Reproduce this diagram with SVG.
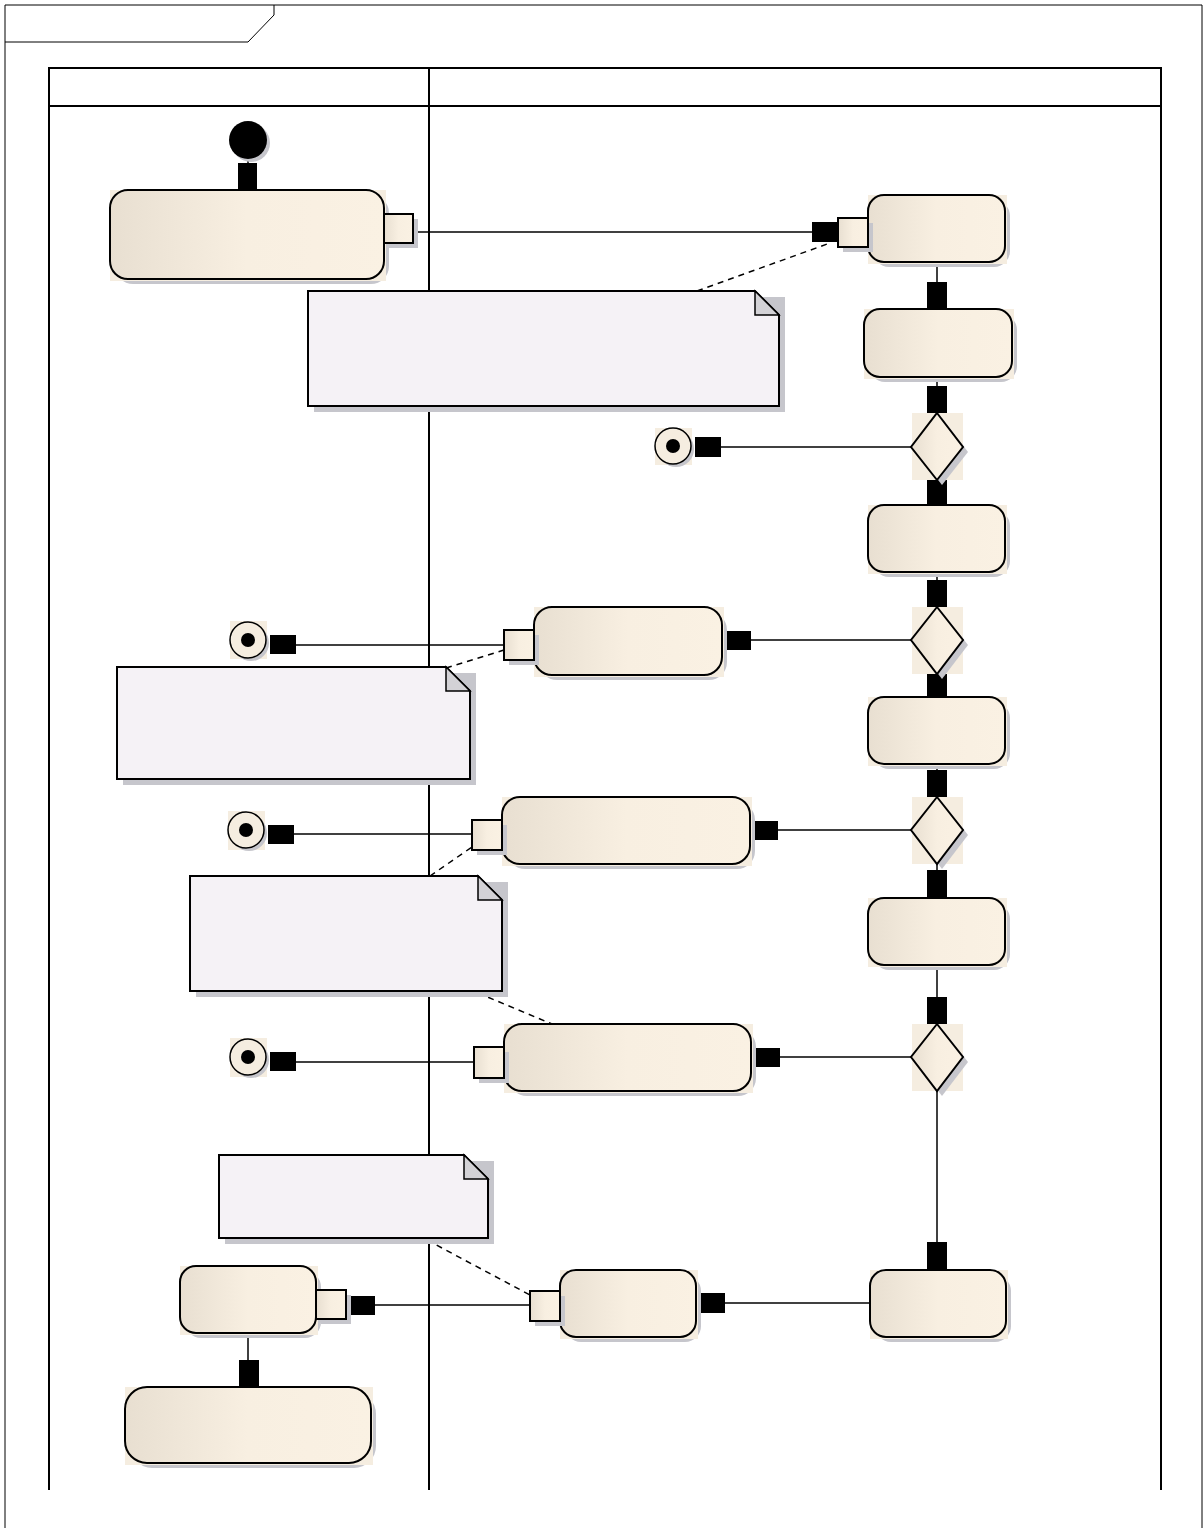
<svg xmlns="http://www.w3.org/2000/svg" width="1204" height="1528" viewBox="0 0 1204 1528">
<defs>
<linearGradient id="g" x1="0" y1="0" x2="1" y2="0">
<stop offset="0" stop-color="#E8DFD1"/>
<stop offset="0.5" stop-color="#F8EFE1"/>
<stop offset="1" stop-color="#FAF1E3"/>
</linearGradient>
<style>
.frame{fill:none;stroke:#000;stroke-width:1}
.lane{fill:none;stroke:#000;stroke-width:2}
.bg{fill:#F5EDE0;stroke:none}
.sh{fill:#C6C6CC;stroke:none}
.act{fill:url(#g);stroke:#000;stroke-width:2}
.pin{fill:url(#g);stroke:#000;stroke-width:2}
.note{fill:#F5F2F6;stroke:#000;stroke-width:2}
.fold{fill:#D3D2D6;stroke:#000;stroke-width:1.5}
.blk{fill:#000;stroke:none}
.ln{fill:none;stroke:#000;stroke-width:1.5}
.dash{fill:none;stroke:#000;stroke-width:1.5;stroke-dasharray:6 5}
.dec{fill:url(#g);stroke:#000;stroke-width:2}
.fin{fill:#F5EDE0;stroke:#000;stroke-width:1.5}
</style>
</defs>
<rect width="1204" height="1528" fill="#fff"/>
<g id="frame">
<path class="frame" d="M5,1528 V5 H1202 V1528"/>
<path class="frame" d="M5,42 H248 L274,15 V5"/>
</g>
<g id="lanes">
<path class="lane" d="M49,1490 V68 H1161 V1490"/>
<line class="lane" x1="49" y1="106" x2="1161" y2="106"/>
<line class="lane" x1="429" y1="68" x2="429" y2="1490"/>
</g>
<g id="connectors">
<line class="ln" x1="248" y1="160" x2="248" y2="190"/>
<line class="ln" x1="413" y1="232" x2="812" y2="232"/>
<line class="ln" x1="937" y1="262" x2="937" y2="309"/>
<line class="ln" x1="937" y1="377" x2="937" y2="413"/>
<line class="ln" x1="721" y1="447" x2="912" y2="447"/>
<line class="ln" x1="937" y1="480" x2="937" y2="505"/>
<line class="ln" x1="937" y1="572" x2="937" y2="607"/>
<line class="ln" x1="296" y1="645" x2="504" y2="645"/>
<line class="ln" x1="751" y1="640" x2="912" y2="640"/>
<line class="ln" x1="937" y1="673" x2="937" y2="697"/>
<line class="ln" x1="937" y1="764" x2="937" y2="797"/>
<line class="ln" x1="294" y1="834" x2="472" y2="834"/>
<line class="ln" x1="778" y1="830" x2="912" y2="830"/>
<line class="ln" x1="937" y1="864" x2="937" y2="898"/>
<line class="ln" x1="937" y1="965" x2="937" y2="1024"/>
<line class="ln" x1="296" y1="1062" x2="474" y2="1062"/>
<line class="ln" x1="780" y1="1057" x2="912" y2="1057"/>
<line class="ln" x1="937" y1="1091" x2="937" y2="1270"/>
<line class="ln" x1="725" y1="1303" x2="870" y2="1303"/>
<line class="ln" x1="375" y1="1305" x2="530" y2="1305"/>
<line class="ln" x1="248" y1="1333" x2="248" y2="1387"/>
<rect class="blk" x="238" y="163" width="19" height="27"/>
<rect class="blk" x="812" y="222" width="26" height="20"/>
<rect class="blk" x="927" y="282" width="20" height="27"/>
<rect class="blk" x="927" y="386" width="20" height="27"/>
<rect class="blk" x="695" y="437" width="26" height="20"/>
<rect class="blk" x="927" y="478" width="20" height="27"/>
<rect class="blk" x="927" y="580" width="20" height="27"/>
<rect class="blk" x="724" y="631" width="27" height="19"/>
<rect class="blk" x="270" y="635" width="26" height="19"/>
<rect class="blk" x="927" y="670" width="20" height="27"/>
<rect class="blk" x="927" y="770" width="20" height="27"/>
<rect class="blk" x="751" y="821" width="27" height="19"/>
<rect class="blk" x="268" y="825" width="26" height="19"/>
<rect class="blk" x="927" y="870" width="20" height="27"/>
<rect class="blk" x="927" y="997" width="20" height="27"/>
<rect class="blk" x="753" y="1048" width="27" height="19"/>
<rect class="blk" x="270" y="1052" width="26" height="19"/>
<rect class="blk" x="927" y="1242" width="20" height="28"/>
<rect class="blk" x="698" y="1293" width="27" height="20"/>
<rect class="blk" x="348" y="1296" width="27" height="19"/>
<rect class="blk" x="239" y="1360" width="20" height="27"/>
<line class="dash" x1="697" y1="291" x2="830" y2="243"/>
<line class="dash" x1="446" y1="668" x2="504" y2="650"/>
<line class="dash" x1="430" y1="876" x2="472" y2="847"/>
<line class="dash" x1="478" y1="993" x2="552" y2="1024"/>
<line class="dash" x1="427" y1="1240" x2="530" y2="1295"/>
</g>
<g id="initial">
<circle cx="251" cy="143" r="19" fill="#C6C6CC"/>
<circle cx="248" cy="140" r="19" fill="#000"/>
</g>
<g id="action1">
<rect class="sh" x="115" y="195" width="274" height="89" rx="18"/>
<rect class="bg" x="110" y="190" width="276" height="91"/>
<rect class="act" x="110" y="190" width="274" height="89" rx="18"/>
<rect class="sh" x="389" y="219" width="29" height="29"/>
<rect class="pin" x="384" y="214" width="29" height="29"/>
</g>
<g id="action2">
<rect class="sh" x="873" y="200" width="137" height="67" rx="16"/>
<rect class="bg" x="868" y="195" width="139" height="69"/>
<rect class="act" x="868" y="195" width="137" height="67" rx="16"/>
<rect class="sh" x="843" y="223" width="30" height="29"/>
<rect class="pin" x="838" y="218" width="30" height="29"/>
</g>
<g id="note1">
<path class="sh" d="M314,297 H785 V412 H314 Z"/>
<path class="note" d="M308,291 H755 L779,315 V406 H308 Z"/>
<path class="fold" d="M755,291 V315 H779 Z"/>
</g>
<g id="action3">
<rect class="sh" x="869" y="314" width="148" height="68" rx="16"/>
<rect class="bg" x="864" y="309" width="150" height="70"/>
<rect class="act" x="864" y="309" width="148" height="68" rx="16"/>
</g>
<g id="decision1">
<rect class="bg" x="912" y="413" width="51" height="67"/>
<path class="sh" d="M942,418 L968,452 L942,485 L916,452 Z"/>
<path class="dec" d="M937,413 L963,447 L937,480 L911,447 Z"/>
</g>
<g id="final1">
<rect class="bg" x="655" y="428" width="37" height="37"/>
<circle cx="676" cy="449" r="18" fill="#C6C6CC"/>
<circle class="fin" cx="673" cy="446" r="18"/>
<circle cx="673" cy="446" r="7" fill="#000"/>
</g>
<g id="action4">
<rect class="sh" x="873" y="510" width="137" height="67" rx="16"/>
<rect class="bg" x="868" y="505" width="139" height="69"/>
<rect class="act" x="868" y="505" width="137" height="67" rx="16"/>
</g>
<g id="decision2">
<rect class="bg" x="912" y="607" width="51" height="67"/>
<path class="sh" d="M942,612 L968,645 L942,679 L916,645 Z"/>
<path class="dec" d="M937,607 L963,640 L937,674 L911,640 Z"/>
</g>
<g id="action5">
<rect class="sh" x="539" y="612" width="188" height="68" rx="18"/>
<rect class="bg" x="534" y="607" width="190" height="70"/>
<rect class="act" x="534" y="607" width="188" height="68" rx="18"/>
<rect class="sh" x="509" y="635" width="30" height="30"/>
<rect class="pin" x="504" y="630" width="30" height="30"/>
</g>
<g id="final2">
<rect class="bg" x="230" y="621" width="37" height="38"/>
<circle cx="251" cy="643" r="18" fill="#C6C6CC"/>
<circle class="fin" cx="248" cy="640" r="18"/>
<circle cx="248" cy="640" r="7" fill="#000"/>
</g>
<g id="note2">
<path class="sh" d="M123,673 H476 V785 H123 Z"/>
<path class="note" d="M117,667 H446 L470,691 V779 H117 Z"/>
<path class="fold" d="M446,667 V691 H470 Z"/>
</g>
<g id="action6">
<rect class="sh" x="873" y="702" width="137" height="67" rx="16"/>
<rect class="bg" x="868" y="697" width="139" height="69"/>
<rect class="act" x="868" y="697" width="137" height="67" rx="16"/>
</g>
<g id="decision3">
<rect class="bg" x="912" y="797" width="51" height="67"/>
<path class="sh" d="M942,802 L968,835 L942,869 L916,835 Z"/>
<path class="dec" d="M937,797 L963,830 L937,864 L911,830 Z"/>
</g>
<g id="action7">
<rect class="sh" x="507" y="802" width="248" height="67" rx="18"/>
<rect class="bg" x="502" y="797" width="250" height="69"/>
<rect class="act" x="502" y="797" width="248" height="67" rx="18"/>
<rect class="sh" x="477" y="825" width="30" height="30"/>
<rect class="pin" x="472" y="820" width="30" height="30"/>
</g>
<g id="final3">
<rect class="bg" x="228" y="811" width="37" height="39"/>
<circle cx="249" cy="833" r="18" fill="#C6C6CC"/>
<circle class="fin" cx="246" cy="830" r="18"/>
<circle cx="246" cy="830" r="7" fill="#000"/>
</g>
<g id="note3">
<path class="sh" d="M196,882 H508 V997 H196 Z"/>
<path class="note" d="M190,876 H478 L502,900 V991 H190 Z"/>
<path class="fold" d="M478,876 V900 H502 Z"/>
</g>
<g id="action8">
<rect class="sh" x="873" y="903" width="137" height="67" rx="16"/>
<rect class="bg" x="868" y="898" width="139" height="69"/>
<rect class="act" x="868" y="898" width="137" height="67" rx="16"/>
</g>
<g id="decision4">
<rect class="bg" x="912" y="1024" width="51" height="67"/>
<path class="sh" d="M942,1029 L968,1062 L942,1096 L916,1062 Z"/>
<path class="dec" d="M937,1024 L963,1057 L937,1091 L911,1057 Z"/>
</g>
<g id="action9">
<rect class="sh" x="509" y="1029" width="247" height="67" rx="18"/>
<rect class="bg" x="504" y="1024" width="249" height="69"/>
<rect class="act" x="504" y="1024" width="247" height="67" rx="18"/>
<rect class="sh" x="479" y="1052" width="30" height="31"/>
<rect class="pin" x="474" y="1047" width="30" height="31"/>
</g>
<g id="final4">
<rect class="bg" x="230" y="1038" width="37" height="39"/>
<circle cx="251" cy="1060" r="18" fill="#C6C6CC"/>
<circle class="fin" cx="248" cy="1057" r="18"/>
<circle cx="248" cy="1057" r="7" fill="#000"/>
</g>
<g id="note4">
<path class="sh" d="M225,1161 H494 V1244 H225 Z"/>
<path class="note" d="M219,1155 H464 L488,1179 V1238 H219 Z"/>
<path class="fold" d="M464,1155 V1179 H488 Z"/>
</g>
<g id="action10">
<rect class="sh" x="875" y="1275" width="136" height="67" rx="16"/>
<rect class="bg" x="870" y="1270" width="138" height="69"/>
<rect class="act" x="870" y="1270" width="136" height="67" rx="16"/>
</g>
<g id="action11">
<rect class="sh" x="565" y="1275" width="136" height="67" rx="16"/>
<rect class="bg" x="560" y="1270" width="138" height="69"/>
<rect class="act" x="560" y="1270" width="136" height="67" rx="16"/>
<rect class="sh" x="535" y="1296" width="30" height="30"/>
<rect class="pin" x="530" y="1291" width="30" height="30"/>
</g>
<g id="action12">
<rect class="sh" x="185" y="1271" width="136" height="67" rx="16"/>
<rect class="bg" x="180" y="1266" width="138" height="69"/>
<rect class="act" x="180" y="1266" width="136" height="67" rx="16"/>
<rect class="sh" x="321" y="1295" width="30" height="29"/>
<rect class="pin" x="316" y="1290" width="30" height="29"/>
</g>
<g id="action13">
<rect class="sh" x="130" y="1392" width="246" height="76" rx="22"/>
<rect class="bg" x="125" y="1387" width="248" height="78"/>
<rect class="act" x="125" y="1387" width="246" height="76" rx="22"/>
</g>
</svg>
